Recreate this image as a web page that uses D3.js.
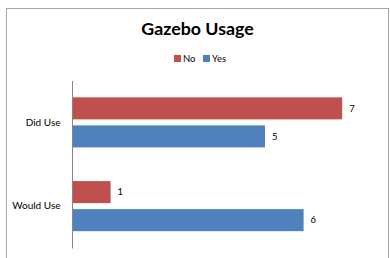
<!DOCTYPE html>
<html>
<head>
<meta charset="utf-8">
<script src="https://cdn.jsdelivr.net/npm/d3@7"></script>
<style>
  body { margin: 0; background: #fff; }
  svg { display: block; font-family: Lato, "Open Sans", sans-serif; }
</style>
</head>
<body>
<svg id="chart" width="390" height="258"></svg>
<script>
var categories = ["Did Use", "Would Use"];
var seriesNames = ["No", "Yes"];
var noValues = [7, 1];
var yesValues = [5, 6];
var colors = ["#C0504D", "#4F81BD"];

var svg = d3.select("#chart");

// chart border
svg.append("rect")
  .attr("x", 6.5).attr("y", 8.5)
  .attr("width", 382).attr("height", 260)
  .attr("fill", "#fff")
  .attr("stroke", "#a6a6a6")
  .attr("stroke-width", 1);

svg.append("text")
  .attr("x", 197.5).attr("y", 35)
  .attr("text-anchor", "middle")
  .attr("font-size", 17.8)
  .attr("font-weight", "bold")
  .attr("fill", "#000")
  .text("Gazebo Usage");

var rows = categories.map((c, i) => ({cat: c, vals: [noValues[i], yesValues[i]]}));

var x = d3.scaleLinear().domain([0, 8]).range([72, 72 + 8 * 38.6]);
var y = d3.scaleBand().domain(categories).range([80.5, 248]);
var ySeries = d3.scaleBand().domain(seriesNames)
  .range([0, y.bandwidth()])
  .paddingInner(0.2143).paddingOuter(0.6);

// legend
var legend = svg.append("g");
var legendX = [174, 203];
seriesNames.forEach(function(s, i) {
  legend.append("rect")
    .attr("x", legendX[i]).attr("y", 55)
    .attr("width", 7).attr("height", 7)
    .attr("fill", colors[i]);
  legend.append("text")
    .attr("x", legendX[i] + 9).attr("y", 62)
    .attr("font-size", 9.5)
    .attr("fill", "#000")
    .text(s);
});

var groups = svg.selectAll("g.cat")
  .data(rows)
  .enter().append("g")
  .attr("class", "cat")
  .attr("transform", d => "translate(0," + y(d.cat) + ")");

groups.selectAll("rect")
  .data(d => d.vals.map((v, i) => ({name: seriesNames[i], v: v, i: i})))
  .enter().append("rect")
  .attr("x", x(0))
  .attr("y", d => ySeries(d.name))
  .attr("width", d => x(d.v) - x(0))
  .attr("height", ySeries.bandwidth())
  .attr("fill", d => colors[d.i]);

groups.selectAll("text.val")
  .data(d => d.vals.map((v, i) => ({name: seriesNames[i], v: v})))
  .enter().append("text")
  .attr("class", "val")
  .attr("x", d => x(d.v) + 7)
  .attr("y", d => ySeries(d.name) + ySeries.bandwidth() / 2)
  .attr("dy", "0.35em")
  .attr("font-size", 9.5)
  .attr("fill", "#000")
  .text(d => d.v);

var yAxis = d3.axisLeft(y).tickSize(0).tickPadding(11.5);
var axisG = svg.append("g")
  .attr("transform", "translate(" + x(0) + ",0)")
  .call(yAxis);
axisG.select(".domain").attr("stroke", "#868686");
axisG.selectAll("text")
  .attr("font-size", 10)
  .attr("font-family", "Lato, 'Open Sans', sans-serif")
  .attr("fill", "#000");
</script>
</body>
</html>
